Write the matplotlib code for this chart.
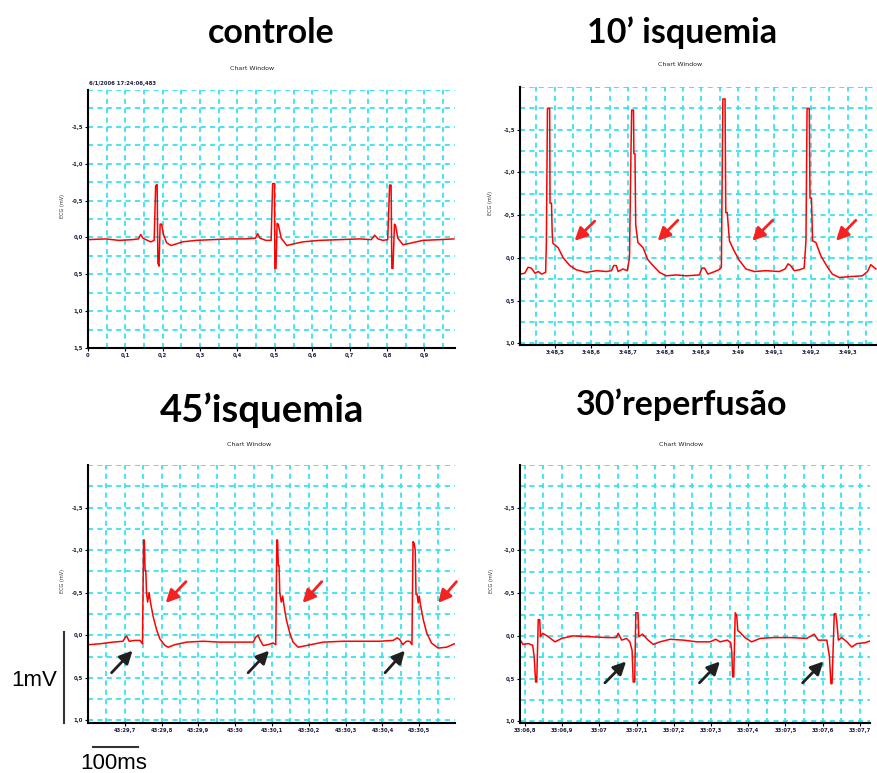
import matplotlib
matplotlib.use("Agg")
import matplotlib.pyplot as plt
from matplotlib.ticker import MultipleLocator
from matplotlib.lines import Line2D

# ---- ECG traces (time in s, voltage in mV as shown on the recorder axis) ----

# controle
ctrl_t = [0.001, 0.047, 0.083, 0.119, 0.135, 0.141, 0.147, 0.159, 0.168, 0.177,
          0.181, 0.185, 0.187, 0.190, 0.193, 0.197, 0.202, 0.210, 0.222, 0.235,
          0.253, 0.289, 0.333, 0.378, 0.423, 0.448, 0.454, 0.460, 0.476, 0.490,
          0.494, 0.499, 0.500, 0.503, 0.506, 0.509, 0.517, 0.532, 0.548, 0.575,
          0.619, 0.673, 0.727, 0.758, 0.767, 0.776, 0.789, 0.802, 0.807, 0.811,
          0.813, 0.816, 0.820, 0.823, 0.829, 0.843, 0.861, 0.896, 0.941, 0.979]
ctrl_v = [0.03, 0.02, 0.04, 0.03, 0.02, -0.04, 0.01, 0.04, 0.06, 0.04,
          -0.70, -0.72, 0.35, 0.39, -0.18, -0.18, -0.04, 0.07, 0.11, 0.09,
          0.06, 0.04, 0.03, 0.02, 0.02, 0.01, -0.05, 0.01, 0.04, 0.04,
          -0.73, -0.73, 0.42, 0.42, -0.19, -0.18, 0.01, 0.11, 0.09, 0.06,
          0.04, 0.03, 0.02, 0.03, -0.03, 0.02, 0.04, 0.03, -0.71, -0.71,
          0.42, 0.42, -0.18, -0.16, 0.01, 0.10, 0.08, 0.04, 0.03, 0.02]

# 10' isquemia
isq10_t = [48.405, 48.418, 48.427, 48.436, 48.446, 48.455, 48.464, 48.475, 48.477, 48.480,
           48.486, 48.487, 48.491, 48.493, 48.495, 48.509, 48.523, 48.541, 48.559, 48.586,
           48.614, 48.641, 48.655, 48.661, 48.668, 48.673, 48.686, 48.698, 48.704, 48.708,
           48.710, 48.715, 48.716, 48.719, 48.721, 48.727, 48.741, 48.754, 48.768, 48.786,
           48.804, 48.832, 48.859, 48.895, 48.902, 48.909, 48.918, 48.931, 48.948, 48.955,
           48.959, 48.965, 48.967, 48.971, 48.977, 48.990, 49.004, 49.022, 49.045, 49.077,
           49.113, 49.129, 49.137, 49.144, 49.154, 49.168, 49.181, 49.186, 49.189, 49.195,
           49.197, 49.201, 49.204, 49.213, 49.227, 49.245, 49.258, 49.277, 49.304, 49.340,
           49.354, 49.363, 49.377]
isq10_v = [0.19, 0.18, 0.11, 0.12, 0.18, 0.16, 0.19, 0.17, -0.17, -1.75,
           -1.75, -0.64, -0.64, -0.29, -0.17, -0.12, 0.00, 0.09, 0.14, 0.17,
           0.15, 0.16, 0.15, 0.09, 0.09, 0.16, 0.13, 0.15, 0.00, -1.22,
           -1.73, -1.73, -1.22, -1.22, -0.39, -0.18, -0.12, 0.02, 0.09, 0.17,
           0.21, 0.20, 0.21, 0.20, 0.12, 0.12, 0.19, 0.17, 0.14, 0.11,
           -1.86, -1.86, -0.53, -0.53, -0.20, -0.08, 0.03, 0.13, 0.16, 0.15,
           0.16, 0.13, 0.07, 0.09, 0.15, 0.14, 0.12, -0.20, -1.75, -1.75,
           -0.70, -0.70, -0.20, -0.18, -0.02, 0.11, 0.19, 0.23, 0.22, 0.21,
           0.16, 0.08, 0.13]

# 45' isquemia
isq45_t = [29.603, 29.632, 29.668, 29.695, 29.702, 29.705, 29.712, 29.727, 29.741, 29.748,
           29.751, 29.753, 29.755, 29.757, 29.759, 29.762, 29.766, 29.770, 29.777, 29.786,
           29.795, 29.809, 29.818, 29.836, 29.868, 29.913, 29.958, 30.004, 30.049, 30.056,
           30.062, 30.068, 30.076, 30.089, 30.103, 30.110, 30.113, 30.115, 30.117, 30.119,
           30.121, 30.125, 30.129, 30.132, 30.139, 30.148, 30.157, 30.171, 30.194, 30.239,
           30.293, 30.348, 30.393, 30.429, 30.440, 30.447, 30.455, 30.465, 30.474, 30.480,
           30.483, 30.486, 30.489, 30.491, 30.494, 30.497, 30.500, 30.503, 30.511, 30.520,
           30.533, 30.551, 30.574, 30.595]
isq45_v = [0.11, 0.10, 0.08, 0.07, 0.02, 0.01, 0.07, 0.06, 0.06, 0.10,
           -1.12, -1.12, -0.76, -0.76, -0.50, -0.39, -0.50, -0.38, -0.22, -0.07,
           0.04, 0.12, 0.14, 0.11, 0.08, 0.07, 0.08, 0.08, 0.08, 0.02,
           0.00, 0.06, 0.12, 0.11, 0.09, 0.11, -1.12, -1.12, -0.82, -0.82,
           -0.50, -0.39, -0.46, -0.36, -0.18, -0.03, 0.08, 0.14, 0.12, 0.08,
           0.07, 0.07, 0.07, 0.06, 0.03, 0.05, 0.11, 0.07, 0.07, 0.11,
           -1.10, -1.08, -1.00, -0.48, -0.48, -0.38, -0.46, -0.36, -0.18, -0.03,
           0.09, 0.15, 0.14, 0.10]

# 30' reperfusao
rep30_t = [6.788, 6.795, 6.809, 6.821, 6.825, 6.829, 6.832, 6.836, 6.840, 6.842,
           6.848, 6.863, 6.881, 6.899, 6.930, 6.975, 7.020, 7.045, 7.051, 7.060,
           7.073, 7.082, 7.088, 7.091, 7.095, 7.098, 7.104, 7.106, 7.116, 7.131,
           7.145, 7.163, 7.190, 7.226, 7.262, 7.297, 7.313, 7.324, 7.344, 7.353,
           7.356, 7.358, 7.361, 7.365, 7.369, 7.372, 7.378, 7.391, 7.409, 7.432,
           7.467, 7.512, 7.557, 7.577, 7.588, 7.611, 7.618, 7.622, 7.625, 7.631,
           7.635, 7.638, 7.642, 7.651, 7.665, 7.678, 7.692, 7.714, 7.727]
rep30_v = [0.05, 0.10, 0.09, 0.11, 0.24, 0.54, 0.54, -0.19, -0.19, 0.01,
           -0.03, 0.01, 0.07, 0.03, 0.00, 0.01, 0.02, 0.02, -0.03, 0.05,
           0.03, 0.07, 0.17, 0.54, 0.54, -0.27, -0.27, 0.01, -0.02, 0.05,
           0.10, 0.07, 0.04, 0.05, 0.07, 0.07, 0.04, 0.07, 0.05, 0.08,
           0.20, 0.48, 0.48, -0.27, -0.24, -0.06, -0.04, 0.02, 0.07, 0.03,
           0.02, 0.02, 0.03, -0.02, 0.05, 0.05, 0.24, 0.56, 0.56, -0.26,
           -0.26, -0.16, 0.05, 0.02, 0.07, 0.13, 0.09, 0.08, 0.06]

# arrows: (tail t, tail v, head t, head v)
isq10_red_arrows = [(48.609, -0.43, 48.554, -0.20), (48.836, -0.44, 48.781, -0.20),
                    (49.095, -0.44, 49.039, -0.20), (49.322, -0.44, 49.268, -0.20)]
isq45_red_arrows = [(29.866, -0.63, 29.811, -0.38), (30.235, -0.63, 30.183, -0.38),
                    (30.601, -0.63, 30.551, -0.38)]
isq45_black_arrows = [(29.664, 0.44, 29.721, 0.18), (30.035, 0.44, 30.092, 0.18),
                      (30.407, 0.44, 30.461, 0.18)]
rep30_black_arrows = [(7.015, 0.55, 7.072, 0.30), (7.269, 0.55, 7.324, 0.30),
                      (7.546, 0.55, 7.602, 0.30)]

# tick labels
ctrl_xticks = [0.0, 0.1, 0.2, 0.3, 0.4, 0.5, 0.6, 0.7, 0.8, 0.9]
ctrl_xlabels = ["0", "0,1", "0,2", "0,3", "0,4", "0,5", "0,6", "0,7", "0,8", "0,9"]
isq10_xticks = [48.5, 48.6, 48.7, 48.8, 48.9, 49.0, 49.1, 49.2, 49.3]
isq10_xlabels = ["3:48,5", "3:48,6", "3:48,7", "3:48,8", "3:48,9", "3:49",
                 "3:49,1", "3:49,2", "3:49,3"]
isq45_xticks = [29.7, 29.8, 29.9, 30.0, 30.1, 30.2, 30.3, 30.4, 30.5]
isq45_xlabels = ["43:29,7", "43:29,8", "43:29,9", "43:30", "43:30,1", "43:30,2",
                 "43:30,3", "43:30,4", "43:30,5"]
rep30_xticks = [6.8, 6.9, 7.0, 7.1, 7.2, 7.3, 7.4, 7.5, 7.6, 7.7]
rep30_xlabels = ["33:06,8", "33:06,9", "33:07", "33:07,1", "33:07,2", "33:07,3",
                 "33:07,4", "33:07,5", "33:07,6", "33:07,7"]
mv_ticks7 = [-1.5, -1.0, -0.5, 0.0, 0.5, 1.0, 1.5]
mv_labels7 = ["-1,5", "-1,0", "-0,5", "0,0", "0,5", "1,0", "1,5"]

GRID = "#38e2f2"
RED = "#ff0000"
W, H = 877.0, 773.0


def px_axes(fig, left, top, right, bottom):
    """Axes placed by pixel edges of the figure"""
    return fig.add_axes([left / W, 1 - bottom / H, (right - left) / W, (bottom - top) / H])


def setup(ax, xlim, ylim, xticks, xlabels, nytick, ylab_x):
    ax.set_xlim(*xlim)
    ax.set_ylim(*ylim)  # bottom value first -> negative voltages go up
    ax.set_xticks(xticks)
    ax.set_xticklabels(xlabels)
    ax.set_yticks(mv_ticks7[:nytick])
    ax.set_yticklabels(mv_labels7[:nytick])
    ax.xaxis.set_minor_locator(MultipleLocator(0.05))
    ax.yaxis.set_minor_locator(MultipleLocator(0.25))
    ax.grid(True, which="both", color=GRID, lw=1.3, ls=(0, (2.8, 2.4)))
    ax.set_axisbelow(True)
    for s in ["top", "right"]:
        ax.spines[s].set_visible(False)
    for s in ["left", "bottom"]:
        ax.spines[s].set_linewidth(1.5)
    ax.tick_params(which="major", length=2, width=0.8, labelsize=3.8, pad=1.5,
                   labelcolor="#1b1b3c")
    ax.tick_params(which="minor", length=0)
    for lab in ax.get_xticklabels() + ax.get_yticklabels():
        lab.set_fontweight("bold")
    ax.set_ylabel("ECG (mV)", fontsize=3.6, color="#333333")
    ax.yaxis.set_label_coords(ylab_x, 0.55)


def arrows(ax, lst, color):
    for t0, v0, t1, v1 in lst:
        ax.annotate("", xy=(t1, v1), xytext=(t0, v0), annotation_clip=False,
                    arrowprops=dict(arrowstyle="-|>", color=color, lw=2.0,
                                    mutation_scale=19, shrinkA=0, shrinkB=0))


fig = plt.figure(figsize=(8.77, 7.73), dpi=100)

ax1 = px_axes(fig, 88, 90, 455, 348)
ax2 = px_axes(fig, 520, 87, 877, 345)
ax3 = px_axes(fig, 88, 465, 455, 723)
ax4 = px_axes(fig, 520, 465, 870, 723)

setup(ax1, (0.0, 0.982), (1.5, -2.0), ctrl_xticks, ctrl_xlabels, 7, -0.062)
setup(ax2, (48.405, 49.38), (1.02, -2.0), isq10_xticks, isq10_xlabels, 6, -0.075)
setup(ax3, (29.600, 30.597), (1.03, -2.0), isq45_xticks, isq45_xlabels, 6, -0.062)
setup(ax4, (6.787, 7.727), (1.02, -2.0), rep30_xticks, rep30_xlabels, 6, -0.075)

ax1.plot(ctrl_t, ctrl_v, color=RED, lw=1.1)
ax2.plot(isq10_t, isq10_v, color=RED, lw=1.1)
ax3.plot(isq45_t, isq45_v, color=RED, lw=1.1)
ax4.plot(rep30_t, rep30_v, color=RED, lw=1.1)

arrows(ax2, isq10_red_arrows, "#f52222")
arrows(ax3, isq45_red_arrows, "#f52222")
arrows(ax3, isq45_black_arrows, "#202020")
arrows(ax4, rep30_black_arrows, "#202020")

# panel titles
title_kw = dict(family=["Lato", "DejaVu Sans"], weight="bold", ha="center", va="center")
fig.text(271 / W, 1 - 33 / H, "controle", fontsize=24.5, **title_kw)
fig.text(682 / W, 1 - 33 / H, "10\u2019 isquemia", fontsize=24.5, **title_kw)
fig.text(262 / W, 1 - 410 / H, "45\u2019isquemia", fontsize=27.5, **title_kw)
fig.text(682 / W, 1 - 405 / H, "30\u2019reperfus\u00e3o", fontsize=24.5, **title_kw)

# recorder window captions
for x, y in [(252, 68), (680, 64), (249, 444), (681, 444)]:
    fig.text(x / W, 1 - y / H, "Chart Window", fontsize=4.5, ha="center", va="center",
             color="#222222")
fig.text(89 / W, 1 - 86 / H, "6/1/2006 17:24:06,483", fontsize=3.8, weight="bold",
         ha="left", va="bottom", color="#1b1b3c")

# calibration bars
fig.add_artist(Line2D([64 / W, 64 / W], [1 - 723 / H, 1 - 632 / H],
                      transform=fig.transFigure, color="#333333", lw=1.5))
fig.add_artist(Line2D([93 / W, 138 / W], [1 - 747 / H, 1 - 747 / H],
                      transform=fig.transFigure, color="#333333", lw=1.5))
fig.text(34 / W, 1 - 680 / H, "1mV", fontsize=16, ha="center", va="center",
         family=["Liberation Sans", "DejaVu Sans"])
fig.text(114 / W, 1 - 769 / H, "100ms", fontsize=16, ha="center", va="baseline",
         family=["Liberation Sans", "DejaVu Sans"])

fig.savefig("out.png", dpi=100, facecolor="white")
